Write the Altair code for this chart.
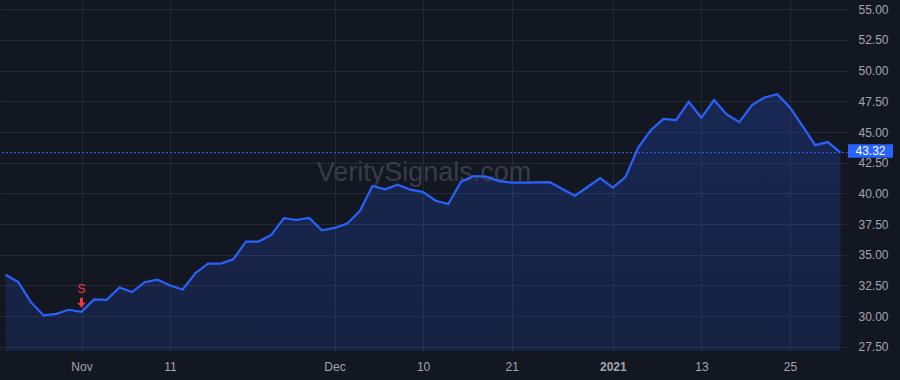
import altair as alt
import pandas as pd

# ---- data (trading days) ----
dates = [
    "2020-10-23", "2020-10-26", "2020-10-27", "2020-10-28", "2020-10-29", "2020-10-30",
    "2020-11-02", "2020-11-03", "2020-11-04", "2020-11-05", "2020-11-06", "2020-11-09",
    "2020-11-10", "2020-11-11", "2020-11-12", "2020-11-13", "2020-11-16", "2020-11-17",
    "2020-11-18", "2020-11-19", "2020-11-20", "2020-11-23", "2020-11-24", "2020-11-25",
    "2020-11-27", "2020-11-30",
    "2020-12-01", "2020-12-02", "2020-12-03", "2020-12-04", "2020-12-07", "2020-12-08",
    "2020-12-09", "2020-12-10", "2020-12-11", "2020-12-14", "2020-12-15", "2020-12-16",
    "2020-12-17", "2020-12-18", "2020-12-21", "2020-12-22", "2020-12-23", "2020-12-24",
    "2020-12-28", "2020-12-29", "2020-12-30", "2020-12-31",
    "2021-01-04", "2021-01-05", "2021-01-06", "2021-01-07", "2021-01-08", "2021-01-11",
    "2021-01-12", "2021-01-13", "2021-01-14", "2021-01-15", "2021-01-19", "2021-01-20",
    "2021-01-21", "2021-01-22", "2021-01-25", "2021-01-26", "2021-01-27", "2021-01-28",
    "2021-01-29",
]
close = [
    33.36, 32.76, 31.13, 30.05, 30.18, 30.51,
    30.35, 31.35, 31.32, 32.32, 31.95, 32.76,
    32.97, 32.49, 32.16, 33.49, 34.28, 34.28,
    34.63, 36.07, 36.07, 36.61, 37.97, 37.83,
    37.99, 36.99,
    37.18, 37.53, 38.56, 40.60, 40.33, 40.70,
    40.30, 40.11, 39.40, 39.13, 40.95, 41.41,
    41.36, 41.00, 40.87, 40.88, 40.90, 40.92,
    40.35, 39.81, 40.52, 41.25,
    40.46, 41.33, 43.71, 45.15, 46.07, 45.97,
    47.46, 46.16, 47.60, 46.43, 45.81, 47.19,
    47.82, 48.08, 47.00, 45.48, 43.93, 44.18,
    43.32,
]

tick_dates = ["2020-11-02", "2020-11-11", "2020-12-01", "2020-12-10",
              "2020-12-21", "2021-01-04", "2021-01-13", "2021-01-25"]
tick_labels = ["Nov", "11", "Dec", "10", "21", "2021", "13", "25"]
bold_label = "2021"
y_ticks = [27.5, 30.0, 32.5, 35.0, 37.5, 40.0, 42.5, 45.0, 47.5, 50.0, 52.5, 55.0]

signal_date = "2020-11-02"
signal_text = "S"
watermark = "VeritySignals.com"

# ---- styling ----
BG = "#131722"
GRID = "#252934"
LABEL = "#a3a6af"
BLUE = "#2962ff"
RED = "#f23645"
FONT = "Liberation Sans"

df = pd.DataFrame({"date": dates, "close": close})
df["i"] = range(len(df))
last = df.tail(1)
sig = df[df["date"] == signal_date]

pos = {d: k for k, d in enumerate(dates)}
tick_idx = [pos[d] for d in tick_dates]
label_expr = ""
for k, l in zip(tick_idx, tick_labels):
    label_expr += f"datum.value == {k} ? '{l}' : "
label_expr += "''"
bold_idx = tick_idx[tick_labels.index(bold_label)]

x_scale = alt.Scale(domain=[-0.443, 66.59], nice=False, zero=False)
y_scale = alt.Scale(domain=[27.15, 55.76], nice=False, zero=False)

x_axis = alt.Axis(
    values=tick_idx, labelExpr=label_expr, grid=True, gridColor=GRID, gridWidth=1,
    domain=False, ticks=False, labelPadding=10, labelColor=LABEL, labelFontSize=12,
    labelFont=FONT, labelFlush=False, labelOverlap=False, title=None,
    labelFontWeight={"condition": {"test": f"datum.value == {bold_idx}", "value": "bold"},
                     "value": "normal"},
)
y_axis = alt.Axis(
    orient="right", values=y_ticks, format=".2f", grid=True, gridColor=GRID, gridWidth=1,
    domain=False, ticks=False, labelPadding=10, labelColor=LABEL, labelFontSize=12,
    labelFont=FONT, labelFlush=False, labelOverlap=False, title=None,
)

X = alt.X("i:Q", scale=x_scale, axis=x_axis)
Y = alt.Y("close:Q", scale=y_scale, axis=y_axis)

base = alt.Chart(df).encode(x=X, y=Y)

grad = alt.Gradient(
    gradient="linear",
    stops=[alt.GradientStop(color="rgba(41,98,255,0.22)", offset=0),
           alt.GradientStop(color="rgba(41,98,255,0.04)", offset=1)],
    x1=1, x2=1, y1=0, y2=1,
)
area = base.mark_area(color=grad, clip=True)
line = base.mark_line(color=BLUE, strokeWidth=2.2)

wm = alt.Chart(pd.DataFrame({"t": [watermark]})).mark_text(
    fontSize=27, font=FONT, color="#383c48", align="center", baseline="middle"
).encode(x=alt.value(424), y=alt.value(173), text="t:N")

rule = alt.Chart(last).mark_rule(color=BLUE, strokeWidth=1, strokeDash=[2, 2]).encode(y=Y)

s_text = alt.Chart(sig).mark_text(
    text=signal_text, color=RED, fontSize=12, font=FONT, dy=-23, baseline="middle"
).encode(x=X, y=Y)

arrow_path = "M-0.3,-2.8 L0.3,-2.8 L0.3,-1.8 L0.85,-1.8 L0,-0.8 L-0.85,-1.8 L-0.3,-1.8 Z"
arrow = alt.Chart(sig).mark_point(
    shape=arrow_path, size=100, filled=True, color=RED, opacity=1, strokeWidth=0
).encode(x=X, y=Y)

box_path = "M-3,-0.9 L3,-0.9 L3,0.9 L-3,0.9 Z"
box = alt.Chart(last).mark_point(
    shape=box_path, size=225, filled=True, color=BLUE, opacity=1, strokeWidth=0, yOffset=-1.5
).encode(x=alt.value(870.5), y=Y)
box_text = alt.Chart(last).mark_text(
    color="white", fontSize=12, font=FONT, align="center", baseline="middle", dy=-1.5
).encode(x=alt.value(870.5), y=Y, text=alt.Text("close:Q", format=".2f"))

chart = alt.layer(area, wm, rule, line, s_text, arrow, box, box_text).properties(
    width=848, height=351,
    autosize=alt.AutoSizeParams(type="none"),
    padding={"left": 0, "top": 0, "right": 52, "bottom": 29},
).configure(background=BG).configure_view(stroke=None)

chart.save("out.html", embed_options={"renderer": "svg", "actions": False})
